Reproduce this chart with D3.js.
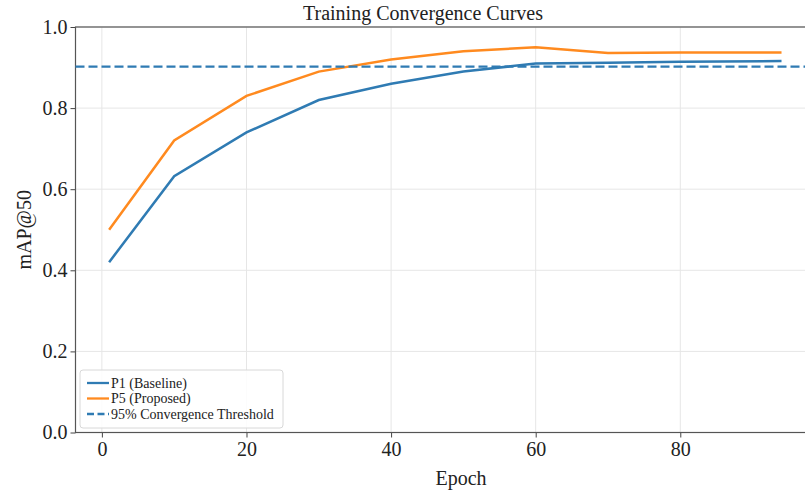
<!DOCTYPE html>
<html>
<head>
<meta charset="utf-8">
<script src="https://cdn.jsdelivr.net/npm/d3@7"></script>
<style>
  body { margin: 0; background: #fff; }
  svg text { font-family: "Liberation Serif", "Times New Roman", serif; }
</style>
</head>
<body>
<div class="canvas"></div>
<script>
const epochs = [1, 10, 20, 30, 40, 50, 60, 70, 80, 94]
const baseline = [0.42, 0.632, 0.74, 0.82, 0.86, 0.89, 0.91, 0.912, 0.914, 0.916]
const proposed = [0.50, 0.72, 0.83, 0.89, 0.92, 0.94, 0.95, 0.936, 0.937, 0.937]
const threshold = 0.9025
const xTicks = [0, 20, 40, 60, 80]
const yTicks = [0, 0.2, 0.4, 0.6, 0.8, 1.0]

const seriesNames = ['P1 (Baseline)', 'P5 (Proposed)', '95% Convergence Threshold']
const blue = '#2f7bb3'
const orange = '#ff8a1f'

const svg = d3.select('.canvas').append('svg')
  .attr('width', 805)
  .attr('height', 490)

const plotLeft = 75.5, plotTop = 27, plotBottom = 432.5

const x = d3.scaleLinear().domain([-3.65, 98.65]).range([plotLeft, plotLeft + 102.3 * 7.23])
const y = d3.scaleLinear().domain([0, 1]).range([plotBottom, plotTop])
const plotRight = x.range()[1]

// grid
const grid = svg.append('g')
grid.selectAll('.vg').data(xTicks).enter().append('line')
  .attr('x1', d => x(d)).attr('x2', d => x(d))
  .attr('y1', plotTop).attr('y2', plotBottom)
  .attr('stroke', '#e6e6e6').attr('stroke-width', 1)
grid.selectAll('.hg').data(yTicks).enter().append('line')
  .attr('x1', plotLeft).attr('x2', plotRight)
  .attr('y1', d => y(d)).attr('y2', d => y(d))
  .attr('stroke', '#e6e6e6').attr('stroke-width', 1)

// axes
const xAxis = d3.axisBottom(x).tickValues(xTicks).tickSize(5).tickPadding(4).tickFormat(d3.format('d'))
const yAxis = d3.axisLeft(y).tickValues(yTicks).tickSize(5).tickPadding(3).tickFormat(d3.format('.1f'))

const xAxisGroup = svg.append('g')
  .attr('transform', `translate(0,${plotBottom})`)
  .call(xAxis)
const yAxisGroup = svg.append('g')
  .attr('transform', `translate(${plotLeft},0)`)
  .call(yAxis)

;[xAxisGroup, yAxisGroup].forEach(g => {
  g.select('.domain').remove()
  g.selectAll('line').attr('stroke', '#444').attr('stroke-width', 1)
  g.selectAll('text').attr('fill', '#222').style('font-size', '20px')
    .style('font-family', '"Liberation Serif", serif')
})

// spines
svg.append('rect')
  .attr('x', plotLeft).attr('y', plotTop)
  .attr('width', plotRight - plotLeft).attr('height', plotBottom - plotTop)
  .attr('fill', 'none').attr('stroke', '#555').attr('stroke-width', 1.2)

// lines
const line = d3.line().x(d => x(d[0])).y(d => y(d[1]))

svg.append('path')
  .datum(epochs.map((e, i) => [e, baseline[i]]))
  .attr('d', line)
  .attr('fill', 'none').attr('stroke', blue).attr('stroke-width', 2.5)

svg.append('path')
  .datum(epochs.map((e, i) => [e, proposed[i]]))
  .attr('d', line)
  .attr('fill', 'none').attr('stroke', orange).attr('stroke-width', 2.5)

svg.append('line')
  .attr('x1', plotLeft).attr('x2', plotRight)
  .attr('y1', y(threshold)).attr('y2', y(threshold))
  .attr('stroke', blue).attr('stroke-width', 2.3)
  .attr('stroke-dasharray', '9,4')

// labels
svg.append('text')
  .attr('x', 423).attr('y', 20)
  .attr('text-anchor', 'middle')
  .style('font-size', '20px').attr('fill', '#222')
  .text('Training Convergence Curves')

svg.append('text')
  .attr('x', 461).attr('y', 485)
  .attr('text-anchor', 'middle')
  .style('font-size', '20px').attr('fill', '#222')
  .text('Epoch')

svg.append('text')
  .attr('transform', `translate(31,${(plotTop + plotBottom) / 2}) rotate(-90)`)
  .attr('text-anchor', 'middle')
  .style('font-size', '20px').attr('fill', '#222')
  .text('mAP@50')

// legend
const legend = svg.append('g').attr('transform', 'translate(80,370)')
legend.append('rect')
  .attr('width', 203).attr('height', 58).attr('rx', 3)
  .attr('fill', 'rgba(255,255,255,0.85)').attr('stroke', '#d8d8d8')

const styles = [
  { color: blue, dash: null },
  { color: orange, dash: null },
  { color: blue, dash: '7,3.5' }
]
seriesNames.forEach((name, i) => {
  const row = legend.append('g').attr('transform', `translate(0,${13 + i * 15.5})`)
  row.append('line')
    .attr('x1', 7).attr('x2', 29)
    .attr('stroke', styles[i].color).attr('stroke-width', 2.3)
    .attr('stroke-dasharray', styles[i].dash)
  row.append('text')
    .attr('x', 31).attr('y', 4.8)
    .style('font-size', '14px').attr('fill', '#222')
    .text(name)
})
</script>
</body>
</html>
